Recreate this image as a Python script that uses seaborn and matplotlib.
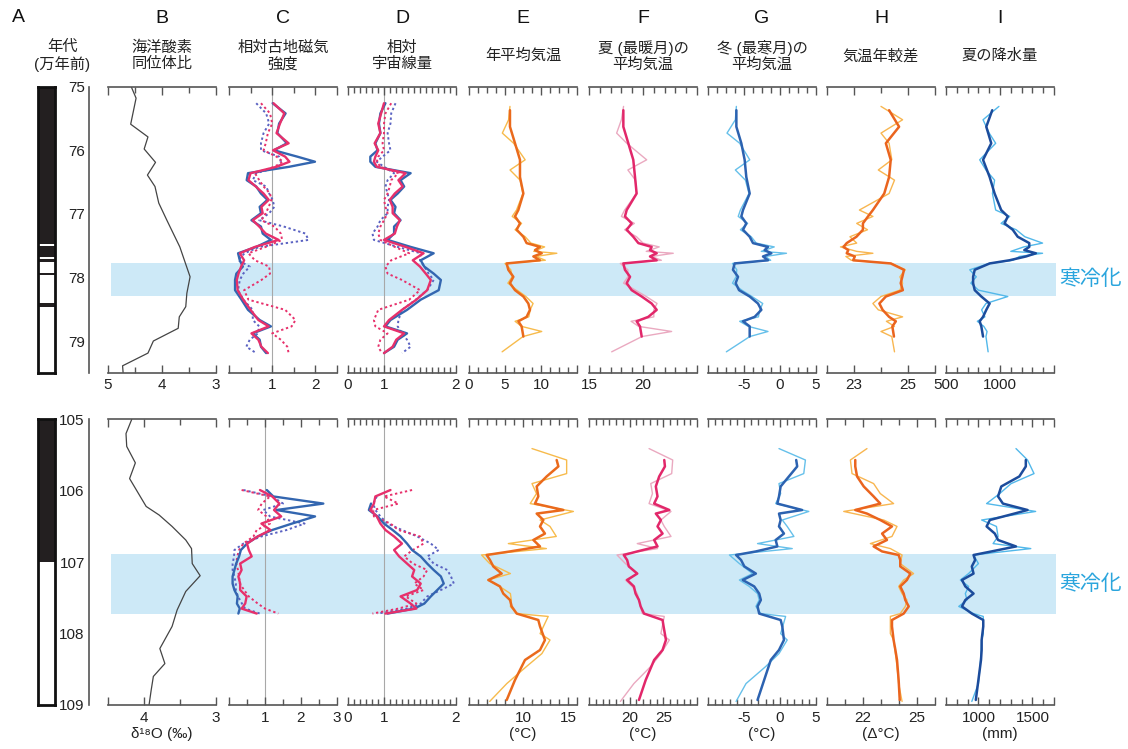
import numpy as np
import matplotlib
matplotlib.use('Agg')
import matplotlib.pyplot as plt
import matplotlib.transforms as mtransforms
import seaborn as sns

sns.set_style('white')
plt.rcParams['font.family'] = ['Liberation Sans', 'Noto Sans CJK JP', 'DejaVu Sans']

nan = np.nan

# ---------------- データ（上段: 75-79.5万年前） ----------------
band_top = (77.77, 78.29)
band_bot = (106.88, 107.73)

pol_top_start = [75.0, 77.50, 77.71, 77.93, 78.40]
pol_top_end = [77.47, 77.68, 77.76, 77.96, 78.47]
pol_bot_start = [105.0]
pol_bot_end = [107.0]

b_top_age = [75.0, 75.18, 75.59, 75.79, 75.98, 76.19, 76.39, 76.57, 76.83, 77.10,
             77.52, 77.99, 78.25, 78.46, 78.62, 78.80, 79.0, 79.19, 79.39, 79.5]
b_top_val = [4.57, 4.48, 4.58, 4.26, 4.33, 4.12, 4.27, 4.13, 4.06, 3.91,
             3.67, 3.48, 3.54, 3.56, 3.68, 3.70, 4.16, 4.26, 4.73, 4.72]

cd_top_age = [75.26, 75.42, 75.58, 75.73, 75.89, 76.00, 76.10, 76.18, 76.26, 76.36,
              76.47, 76.57, 76.68, 76.78, 76.89, 76.99, 77.10, 77.20, 77.31, 77.41,
              77.52, 77.62, 77.73, 77.83, 77.94, 78.04, 78.20, 78.35, 78.51, 78.67,
              78.77, 78.88, 78.98, 79.09, 79.19]
c_top_blue = [1.01, 1.31, 1.16, 1.12, 1.34, 1.04, 1.58, 1.99, 1.39, 0.44,
              0.41, 0.63, 0.74, 0.89, 0.71, 0.74, 0.52, 0.74, 0.78, 0.97,
              0.63, 0.21, 0.25, 0.32, 0.17, 0.14, 0.14, 0.29, 0.44, 0.71,
              0.97, 0.55, 0.71, 0.74, 0.86]
c_top_red = [1.03, 1.28, 1.18, 1.10, 1.38, 1.02, 1.30, 1.40, 1.10, 0.50,
             0.45, 0.62, 0.80, 0.92, 0.75, 0.78, 0.55, 0.70, 0.85, 1.15,
             0.60, 0.25, 0.35, 0.28, 0.22, 0.18, 0.20, 0.33, 0.50, 0.68,
             0.92, 0.52, 0.68, 0.75, 0.90]
c_top_blue_dot = [0.63, 0.86, 0.93, 0.80, 0.74, 0.74, 1.16, 1.20, 1.15, 0.63,
                  0.55, 0.86, 0.93, 1.01, 1.05, 0.93, 0.70, 1.27, 1.77, 1.84,
                  0.70, 0.36, 0.21, 0.48, 0.33, 0.25, 0.21, 0.33, 0.55, 0.55,
                  0.70, 0.67, 0.48, 0.40, 0.63]
c_top_red_dot = [0.74, 0.95, 1.00, 0.90, 0.85, 0.80, 1.10, 1.25, 1.05, 0.60,
                 0.70, 0.80, 0.95, 0.98, 0.92, 0.85, 0.75, 1.05, 1.20, 1.23,
                 0.85, 0.45, 0.60, 0.93, 0.95, 0.75, 0.35, 0.45, 1.30, 1.54,
                 1.45, 1.00, 1.20, 1.35, 1.38]
d_top_blue = [1.02, 0.95, 0.93, 0.95, 0.88, 0.91, 0.81, 0.81, 0.88, 1.37,
              1.23, 1.28, 1.19, 1.09, 1.16, 1.14, 1.23, 1.14, 1.14, 1.05,
              1.37, 1.69, 1.51, 1.56, 1.69, 1.79, 1.76, 1.51, 1.32, 1.09,
              1.02, 1.32, 1.19, 1.14, 1.00]
d_top_red = [1.00, 0.96, 0.92, 0.95, 0.87, 0.92, 0.88, 0.86, 0.90, 1.30,
             1.20, 1.26, 1.15, 1.08, 1.12, 1.12, 1.22, 1.18, 1.15, 1.00,
             1.30, 1.55, 1.40, 1.50, 1.58, 1.65, 1.60, 1.45, 1.25, 1.07,
             1.00, 1.28, 1.17, 1.12, 1.00]
d_top_blue_dot = [1.16, 1.10, 1.09, 1.05, 1.07, 1.09, 0.98, 0.90, 1.00, 1.14,
                  1.05, 1.02, 1.05, 1.07, 1.05, 1.05, 0.95, 0.91, 0.84, 0.86,
                  1.19, 1.51, 1.50, 1.56, 1.62, 1.69, 1.60, 1.44, 1.25, 1.20,
                  1.19, 1.25, 1.32, 1.37, 1.25]
d_top_red_dot = [1.10, 1.02, 1.00, 1.00, 0.98, 1.00, 0.92, 0.90, 0.95, 1.20,
                 1.10, 1.08, 1.05, 1.00, 1.02, 1.05, 1.00, 0.95, 0.92, 0.95,
                 1.15, 1.35, 1.10, 1.02, 1.05, 1.25, 1.50, 1.35, 0.92, 0.86,
                 0.88, 1.05, 0.95, 0.92, 0.97]

# 太線（復元値）と細線
thick_top_age = [75.37, 75.63, 75.89, 76.15, 76.42, 76.68, 76.94, 77.04, 77.15, 77.25,
                 77.36, 77.46, 77.52, 77.57, 77.62, 77.67, 77.73, 77.78, 77.88, 77.99,
                 78.09, 78.20, 78.30, 78.41, 78.51, 78.62, 78.69, 78.77, 78.93]
e_top_thick = [5.69, 5.69, 6.39, 7.08, 7.08, 7.55, 6.85, 6.39, 7.08, 6.62,
               7.55, 8.00, 9.86, 9.17, 10.10, 8.94, 9.86, 5.23, 5.46, 6.16,
               5.69, 6.39, 7.55, 8.24, 8.47, 8.00, 6.85, 7.31, 7.55]
f_top_thick = [18.18, 18.18, 18.64, 19.10, 19.26, 19.41, 18.49, 18.33, 18.95, 18.49,
               19.10, 19.57, 20.80, 20.65, 21.27, 20.65, 21.27, 18.18, 18.33, 18.80,
               18.49, 18.95, 19.88, 20.80, 21.27, 20.49, 19.41, 19.72, 19.88]
g_top_thick = [-6.06, -6.06, -5.37, -4.91, -4.68, -4.21, -5.14, -5.37, -4.68, -5.14,
               -4.21, -3.75, -1.67, -2.13, -1.20, -2.36, -1.67, -6.30, -6.53, -5.83,
               -6.16, -5.69, -4.21, -3.06, -2.59, -3.52, -5.14, -4.21, -4.21]
h_top_thick = [24.30, 24.67, 24.18, 24.36, 24.30, 24.12, 23.70, 23.52, 23.33, 23.33,
               23.09, 22.73, 22.61, 22.79, 22.73, 23.03, 22.97, 24.36, 24.85, 24.79,
               24.73, 24.81, 24.18, 23.94, 24.06, 24.30, 24.55, 24.42, 24.48]
i_top_thick = [928, 873, 919, 843, 904, 950, 1011, 1072, 1042, 1118,
               1164, 1271, 1271, 1225, 1332, 1241, 1088, 904, 766, 751,
               751, 766, 827, 904, 873, 843, 812, 827, 843]

thin_top_age = [75.31, 75.52, 75.73, 75.89, 76.15, 76.31, 76.47, 76.68, 76.94, 77.04,
                77.15, 77.25, 77.36, 77.46, 77.52, 77.59, 77.62, 77.67, 77.73, 77.78,
                77.88, 77.99, 78.09, 78.20, 78.30, 78.41, 78.51, 78.62, 78.69, 78.77,
                78.85, 78.93, 79.17]
e_top_thin = [5.69, 5.50, 4.63, 6.20, 7.80, 5.70, 7.10, 7.50, 6.60, 6.00,
              7.30, 6.40, 7.80, 8.60, 10.50, 9.00, 12.20, 9.30, 10.60, 5.00,
              5.80, 6.00, 5.40, 6.70, 7.90, 8.90, 8.50, 8.30, 6.40, 7.30,
              10.10, 7.50, 4.60]
f_top_thin = [18.2, 18.0, 17.56, 18.5, 20.34, 18.6, 19.3, 19.4, 18.3, 18.0,
              19.2, 18.3, 19.4, 20.0, 21.5, 20.3, 22.8, 20.8, 21.7, 17.9,
              18.6, 18.6, 18.2, 19.3, 20.3, 21.3, 21.0, 21.0, 18.9, 19.6,
              22.65, 19.9, 17.1]
g_top_thin = [-6.06, -6.2, -7.36, -5.6, -4.2, -6.2, -4.8, -4.3, -5.5, -5.8,
              -4.5, -5.5, -4.0, -3.3, -0.8, -2.6, 0.9, -2.0, -1.3, -6.6,
              -6.0, -6.1, -6.6, -5.3, -3.9, -2.4, -2.8, -3.0, -5.6, -4.4,
              -1.67, -4.2, -7.45]
h_top_thin = [24.0, 24.8, 24.0, 24.3, 24.4, 23.9, 24.5, 24.3, 23.2, 23.7,
              23.1, 23.5, 22.85, 23.1, 22.5, 23.1, 23.7, 22.7, 22.9, 24.4,
              24.9, 24.7, 24.8, 24.7, 24.0, 23.7, 23.9, 24.8, 24.2, 24.5,
              24.0, 24.4, 24.5]
i_top_thin = [990, 843, 900, 960, 812, 870, 950, 930, 960, 1090,
              1010, 1150, 1230, 1394, 1220, 1100, 1394, 1180, 1120, 900,
              720, 780, 730, 800, 1072, 870, 830, 860, 790, 850,
              880, 870, 890]

# ---------------- データ（下段: 105-109万年前） ----------------
b_bot_age = [105.0, 105.2, 105.38, 105.61, 105.83, 106.22, 106.34, 106.50, 106.69, 106.81,
             107.02, 107.19, 107.41, 107.67, 107.90, 108.21, 108.42, 108.60, 108.79, 109.0]
b_bot_val = [4.17, 4.25, 4.24, 4.12, 4.20, 3.97, 3.79, 3.61, 3.42, 3.34,
             3.33, 3.22, 3.42, 3.54, 3.61, 3.78, 3.71, 3.87, 3.90, 3.93]

cd_bot_age = [105.99, 106.08, 106.18, 106.27, 106.36, 106.46, 106.55, 106.64, 106.74, 106.83,
              106.92, 107.02, 107.11, 107.20, 107.30, 107.39, 107.48, 107.58, 107.65, 107.72]
c_bot_red = [0.86, 1.20, 1.40, 1.25, 1.45, 0.90, 1.15, 0.80, 0.50, 0.55,
             0.63, 0.31, 0.35, 0.26, 0.31, 0.31, 0.49, 0.45, 0.35, 0.77]
c_bot_blue = [1.05, 1.23, 2.62, 1.32, 2.39, 1.75, 1.20, 0.80, 0.50, 0.33,
              0.28, 0.20, 0.15, 0.10, 0.10, 0.15, 0.24, 0.22, 0.30, 0.26]
c_bot_blue_dot = [0.40, 1.20, 1.50, 0.95, 1.14, 2.10, 1.60, 0.90, 0.40, 0.15,
                  0.14, 0.10, 0.10, 0.15, 0.19, 0.19, 0.25, 0.36, 0.45, 0.86]
c_bot_red_dot = [0.35, 1.14, 0.91, 0.81, 1.04, 1.14, 0.77, 0.68, 0.40, 0.28,
                 0.23, 0.20, 0.25, 0.28, 0.30, 0.42, 0.55, 0.80, 1.00, 1.37]
d_bot_red = [1.09, 0.88, 0.86, 0.81, 0.90, 0.95, 1.02, 1.14, 1.25, 1.14,
             1.21, 1.32, 1.42, 1.39, 1.51, 1.46, 1.23, 1.37, 1.45, 1.02]
d_bot_blue = [nan, nan, 0.82, 0.79, 0.91, 1.00, 1.12, 1.23, 1.32, 1.39,
              1.51, 1.60, 1.69, 1.79, 1.83, 1.74, 1.65, 1.56, 1.42, 1.05]
d_bot_blue_dot = [nan, 0.90, 0.85, 0.88, 0.95, 1.05, 1.25, 1.46, 1.65, 1.76,
                  1.60, 1.69, 1.88, 1.93, 1.97, 1.79, 1.60, 1.51, 1.32, 0.91]
d_bot_red_dot = [1.39, 1.00, 1.20, 0.85, 0.86, 1.09, 1.20, 1.50, 1.55, 1.40,
                 1.28, 1.40, 1.60, 1.55, 1.42, 1.55, 1.30, 1.45, 1.20, 0.84]

thick_bot_age = [105.57, 105.66, 105.80, 105.94, 106.08, 106.18, 106.27, 106.32, 106.41, 106.50,
                 106.60, 106.69, 106.78, 106.85, 106.90, 106.97, 107.06, 107.16, 107.25, 107.34,
                 107.44, 107.53, 107.62, 107.72, 107.81, 107.90, 108.09, 108.23, 108.37, 108.65,
                 108.93]
e_bot_thick = [13.74, 13.93, 12.63, 11.52, 11.70, 11.33, 14.48, 11.52, 12.26, 11.89,
               12.44, 11.15, 11.89, 8.56, 5.96, 6.33, 6.70, 7.63, 6.15, 7.44,
               7.81, 8.56, 8.74, 9.30, 11.70, 11.89, 12.44, 11.89, 10.22, 9.11,
               8.19]
f_bot_thick = [25.15, 25.25, 24.4, 23.9, 24.15, 23.65, 25.9, 23.9, 24.65, 24.15,
               24.9, 23.65, 24.15, 21.15, 19.15, 19.65, 19.9, 21.15, 19.65, 20.65,
               20.9, 21.4, 21.65, 22.15, 24.9, 25.05, 25.4, 24.9, 23.65, 22.4,
               21.4]
g_bot_thick = [2.25, 2.39, 1.24, 0.09, -0.14, -0.37, 3.07, -0.14, 0.09, -0.14,
               0.55, -0.60, -0.37, -3.35, -6.10, -5.41, -4.95, -3.35, -5.18, -3.58,
               -2.89, -2.66, -3.12, -2.89, 0.09, 0.32, 0.55, -0.14, -1.28, -2.20,
               -3.12]
h_bot_thick = [21.57, 21.57, 21.67, 22.04, 22.59, 22.96, 21.57, 22.22, 22.96, 23.61,
               23.06, 23.33, 22.59, 23.06, 23.98, 24.07, 24.07, 24.63, 24.44, 24.07,
               24.26, 24.35, 24.54, 24.26, 23.61, 23.61, 23.70, 23.80, 23.89, 23.98,
               24.04]
i_bot_thick = [1439, 1439, 1379, 1212, 1182, 1227, 1455, 1333, 1106, 1076,
               1152, 1182, 1348, 1121, 955, 970, 939, 955, 848, 879,
               955, 879, 848, 939, 1045, 1045, 1030, 1030, 1024, 1000,
               976]

thin_bot_age = [105.41, 105.57, 105.76, 105.90, 106.04, 106.18, 106.29, 106.41, 106.50, 106.64,
                106.74, 106.81, 106.90, 107.02, 107.16, 107.25, 107.34, 107.44, 107.53, 107.62,
                107.72, 107.76, 108.00, 108.09, 108.28, 108.46, 108.70, 108.95]
e_bot_thin = [11.0, 14.85, 14.85, 11.0, 11.5, 10.8, 15.6, 11.9, 13.0, 13.7,
              8.37, 12.6, 5.4, 6.3, 8.6, 6.1, 7.4, 8.6, 8.7, 8.6,
              9.3, 12.8, 11.9, 13.0, 12.1, 10.4, 8.2, 6.3]
f_bot_thin = [22.9, 26.4, 26.25, 23.15, 23.4, 22.9, 26.15, 24.65, 25.15, 26.15,
              21.15, 24.15, 18.15, 19.4, 21.15, 19.4, 20.4, 21.15, 21.4, 21.65,
              21.9, 25.15, 24.65, 25.9, 24.65, 23.15, 20.65, 18.65]
g_bot_thin = [-0.14, 3.53, 3.30, -0.14, 0.09, -0.60, 4.0, 0.32, 1.0, 1.93,
              -3.12, 1.70, -7.02, -5.64, -3.81, -5.64, -4.27, -3.12, -2.89, -3.35,
              -2.66, 0.78, 0.09, 1.0, -0.14, -1.97, -4.72, -6.10]
h_bot_thin = [22.22, 21.30, 21.39, 22.59, 22.96, 23.70, 20.93, 23.15, 23.89, 23.61,
              22.41, 23.52, 24.17, 24.07, 24.81, 24.26, 23.98, 24.17, 24.44, 24.35,
              24.07, 23.52, 23.52, 23.70, 23.80, 23.89, 23.98, 24.17]
i_bot_thin = [1348, 1455, 1515, 1303, 1197, 1076, 1530, 1030, 1167, 1182,
              1136, 1485, 955, 1000, 909, 833, 909, 879, 894, 818,
              955, 1045, 1045, 1030, 1024, 1015, 1000, 939]

letters = ['B', 'C', 'D', 'E', 'F', 'G', 'H', 'I']
titles = ['海洋酸素\n同位体比', '相対古地磁気\n強度', '相対\n宇宙線量', '年平均気温',
          '夏 (最暖月)の\n平均気温', '冬 (最寒月)の\n平均気温', '気温年較差', '夏の降水量']
bottom_units = ['δ¹⁸O (‰)', '', '', '(°C)', '(°C)', '(°C)', '(Δ°C)', '(mm)']

# 軸設定: (xlim, 目盛間隔, 主目盛, ラベル)
top_axes_cfg = [
    ((5, 3), 0.5, [5, 4, 3], ['5', '4', '3']),
    ((0, 2.5), 0.5, [0, 1, 2, 2.5], ['', '1', '2', '']),
    ((0.5, 2.0), 1 / 12, [0.5, 1, 2], ['0', '1', '2']),
    ((0, 15), 1.25, [0, 5, 10, 15], ['0', '5', '10', '']),
    ((15, 25), 1, [15, 20, 25], ['15', '20', '']),
    ((-10, 5), 1.25, [-10, -5, 0, 5], ['', '-5', '0', '5']),
    ((22, 26), 1, [22, 23, 25, 26], ['', '23', '25', '']),
    ((500, 1500), 100, [500, 1000, 1500], ['500', '1000', '']),
]
bot_axes_cfg = [
    ((4.5, 3), 0.5, [4.5, 4, 3], ['', '4', '3']),
    ((0, 3), 0.5, [0, 1, 2, 3], ['', '1', '2', '3']),
    ((0.5, 2.0), 1 / 12, [0.5, 1, 2], ['0', '1', '2']),
    ((4, 16), 1, [4, 10, 15, 16], ['', '10', '15', '']),
    ((14, 30), 1, [14, 20, 25, 30], ['', '20', '25', '']),
    ((-10, 5), 1, [-10, -5, 0, 5], ['', '-5', '0', '5']),
    ((20, 26), 1, [20, 22, 25, 26], ['', '22', '25', '']),
    ((700, 1700), 100, [700, 1000, 1500, 1700], ['', '1000', '1500', '']),
]

# 色
BLUE = '#3366b0'
RED = '#e7306b'
BLUE_DOT = '#5a62c2'
E_C, E_L = '#ea6a1c', '#f7bb4c'
F_C, F_L = '#e2276a', '#eaa9c0'
G_C, G_L = '#2c62b0', '#66c0ea'
H_C, H_L = '#ea641e', '#f8b650'
I_C, I_L = '#1c4c9c', '#52b8ea'
BAND = '#cde9f7'
AXC = '#555555'

W, H = 1128, 749
fig = plt.figure(figsize=(W / 100, H / 100), dpi=100)


def px_axes(x0, y0, x1, y1):
    return fig.add_axes([x0 / W, 1 - y1 / H, (x1 - x0) / W, (y1 - y0) / H])


def trace(ax, x, y, color, lw, ls='-'):
    sns.lineplot(x=x, y=y, ax=ax, color=color, lw=lw, linestyle=ls,
                 sort=False, estimator=None)


def style_panel(ax, cfg, ylim):
    xlim, step, major, labels = cfg
    ax.set_facecolor('none')
    ax.set_xlim(*xlim)
    ax.set_ylim(*ylim)
    ax.set_yticks([])
    ax.set_xlabel('')
    ax.set_ylabel('')
    for s in ['left', 'right']:
        ax.spines[s].set_visible(False)
    for s in ['top', 'bottom']:
        ax.spines[s].set_color(AXC)
        ax.spines[s].set_linewidth(1.2)
    lo, hi = min(xlim), max(xlim)
    ax.set_xticks(major, labels)
    ax.set_xticks(np.arange(lo, hi + step / 2, step), minor=True)
    ax.tick_params(axis='x', which='both', direction='in', top=True, bottom=True,
                   color=AXC, width=1, labelsize=11, pad=4, labelcolor='#222222')
    ax.tick_params(axis='x', which='major', length=6)
    ax.tick_params(axis='x', which='minor', length=4)


lefts = [108, 229, 348, 469, 589, 708, 827, 946]
pw = 108

rows = [
    dict(y0=86.7, y1=372.8, ylim=(79.5, 75), band=band_top, years=range(75, 80),
         pol=(pol_top_start, pol_top_end), cfg=top_axes_cfg),
    dict(y0=419.3, y1=705.0, ylim=(109, 105), band=band_bot, years=range(105, 110),
         pol=(pol_bot_start, pol_bot_end), cfg=bot_axes_cfg),
]

for r, row in enumerate(rows):
    y0, y1, ylim = row['y0'], row['y1'], row['ylim']

    # 寒冷化の帯
    axb = px_axes(111, y0, 1056, y1)
    axb.set_ylim(*ylim)
    axb.axhspan(*row['band'], color=BAND, lw=0)
    axb.axis('off')
    tr = mtransforms.blended_transform_factory(axb.transAxes, axb.transData)
    axb.text(1.004, sum(row['band']) / 2, '寒冷化', transform=tr, ha='left', va='center',
             fontsize=15, color='#2aa5dd')

    # 地磁気極性
    axp = px_axes(38, y0, 55, y1)
    st, en = row['pol']
    axp.bar(x=[0] * len(st), height=np.subtract(en, st), bottom=st, width=1,
            align='edge', color='#231f20', lw=0)
    axp.set_xlim(0, 1)
    axp.set_ylim(*ylim)
    axp.set_xticks([])
    axp.set_yticks([])
    for s in axp.spines.values():
        s.set_visible(True)
        s.set_color('#111111')
        s.set_linewidth(2)

    # 年代軸
    axa = px_axes(89, y0, 95, y1)
    axa.set_facecolor('none')
    axa.set_ylim(*ylim)
    axa.set_xticks([])
    for s in ['top', 'bottom', 'right']:
        axa.spines[s].set_visible(False)
    axa.spines['left'].set_color(AXC)
    axa.spines['left'].set_linewidth(1.2)
    yrs = list(row['years'])
    axa.set_yticks(yrs, [str(v) for v in yrs])
    axa.set_yticks(np.arange(min(ylim), max(ylim) + 0.05, 0.1), minor=True)
    axa.tick_params(axis='y', which='both', direction='in', color=AXC, labelsize=11,
                    pad=3, labelcolor='#222222')
    axa.tick_params(axis='y', which='major', length=7, width=1)
    axa.tick_params(axis='y', which='minor', length=4, width=0.8)

    axes = []
    for k in range(8):
        ax = px_axes(lefts[k], y0, lefts[k] + pw, y1)
        axes.append(ax)

    if r == 0:
        trace(axes[0], b_top_val, b_top_age, '#444444', 0.9)
        cd = [(c_top_blue_dot, c_top_red_dot, c_top_blue, c_top_red),
              (d_top_blue_dot, d_top_red_dot, d_top_blue, d_top_red)]
        cd_age = cd_top_age
        thin_age, thick_age = thin_top_age, thick_top_age
        pairs = [(e_top_thin, e_top_thick), (f_top_thin, f_top_thick),
                 (g_top_thin, g_top_thick), (h_top_thin, h_top_thick),
                 (i_top_thin, i_top_thick)]
    else:
        trace(axes[0], b_bot_val, b_bot_age, '#444444', 0.9)
        cd = [(c_bot_blue_dot, c_bot_red_dot, c_bot_blue, c_bot_red),
              (d_bot_blue_dot, d_bot_red_dot, d_bot_blue, d_bot_red)]
        cd_age = cd_bot_age
        thin_age, thick_age = thin_bot_age, thick_bot_age
        pairs = [(e_bot_thin, e_bot_thick), (f_bot_thin, f_bot_thick),
                 (g_bot_thin, g_bot_thick), (h_bot_thin, h_bot_thick),
                 (i_bot_thin, i_bot_thick)]

    for j, (bd, rd, bs, rs) in enumerate(cd):
        ax = axes[1 + j]
        ax.axvline(1, color='#a8a8a8', lw=0.8, zorder=0)
        trace(ax, bd, cd_age, BLUE_DOT, 1.4, (0, (1.2, 1.4)))
        trace(ax, rd, cd_age, RED, 1.4, (0, (1.2, 1.4)))
        trace(ax, bs, cd_age, BLUE, 1.7)
        trace(ax, rs, cd_age, RED, 1.7)

    cols = [(E_L, E_C), (F_L, F_C), (G_L, G_C), (H_L, H_C), (I_L, I_C)]
    for j, ((thin, thick), (cl, cc)) in enumerate(zip(pairs, cols)):
        ax = axes[3 + j]
        trace(ax, thin, thin_age, cl, 1.0)
        trace(ax, thick, thick_age, cc, 1.8)

    for k, ax in enumerate(axes):
        style_panel(ax, row['cfg'][k], ylim)
        if r == 0:
            ax.text(0.5, 1.107, titles[k], transform=ax.transAxes, ha='center',
                    va='center', fontsize=11, linespacing=1.15, color='#222222')
            ax.text(0.5, 1.24, letters[k], transform=ax.transAxes, ha='center',
                    va='center', fontsize=14, color='#111111')
        else:
            ax.set_xlabel(bottom_units[k], fontsize=11, labelpad=2, color='#222222')

fig.text(18 / W, 1 - 18 / H, 'A', ha='center', va='center', fontsize=14, color='#111111')
fig.text(62 / W, 1 - 56 / H, '年代\n(万年前)', ha='center', va='center', fontsize=11,
         linespacing=1.15, color='#222222')

fig.savefig('out.png', dpi=100, facecolor='white')
